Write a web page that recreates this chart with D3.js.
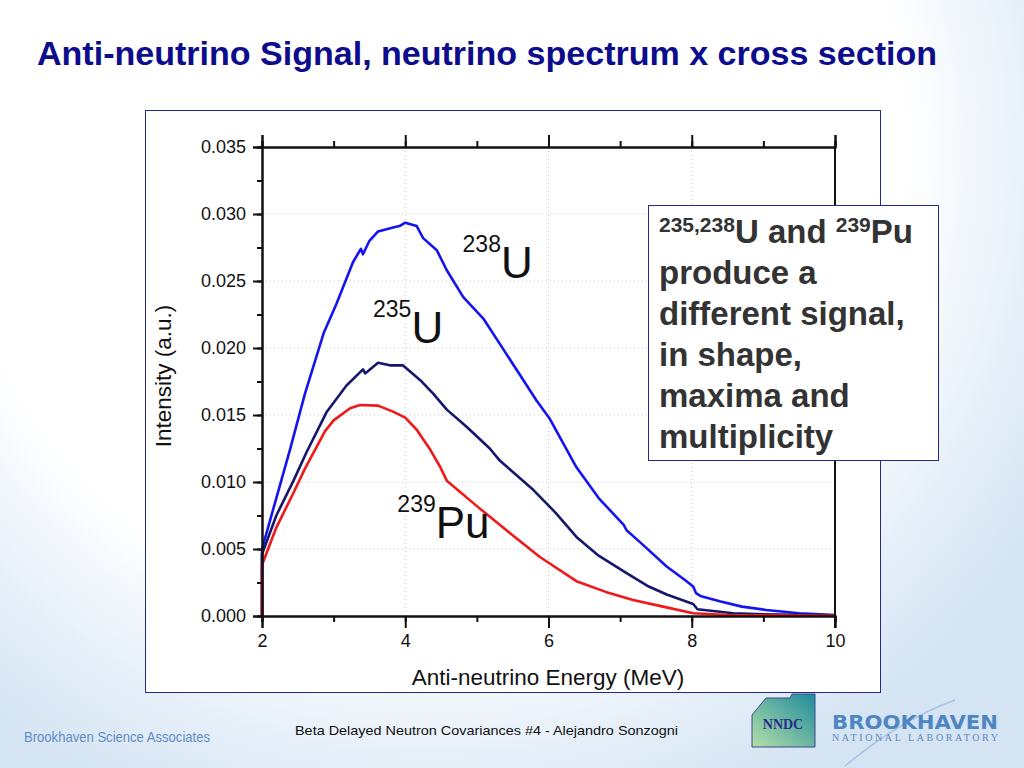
<!DOCTYPE html>
<html>
<head>
<meta charset="utf-8">
<script src="https://cdn.jsdelivr.net/npm/d3@7"></script>
<style>
  html, body { margin: 0; padding: 0; background: #fff; }
  svg { display: block; }
</style>
</head>
<body>
<svg id="chart" width="1024" height="768"></svg>
<script>
// spectra: [energy MeV, intensity a.u.]
const u238 = [[2,0],[2,0.0050],[2.1,0.0069],[2.2,0.0088],[2.39,0.0124],[2.6,0.0166],[2.86,0.0211],[3.04,0.0233],[3.27,0.0264],[3.38,0.0274],[3.41,0.0270],[3.5,0.0280],[3.62,0.0287],[3.83,0.0290],[3.92,0.0291],[4.0,0.02935],[4.16,0.0291],[4.25,0.0282],[4.44,0.0273],[4.58,0.0258],[4.81,0.0238],[5.09,0.0222],[5.37,0.0199],[5.6,0.0180],[5.83,0.0161],[6.02,0.0147],[6.39,0.0111],[6.7,0.0088],[7.05,0.0068],[7.09,0.0064],[7.3,0.0054],[7.65,0.0037],[7.9,0.0027],[8.02,0.0022],[8.06,0.0017],[8.12,0.0015],[8.39,0.0011],[8.7,0.0007],[9.04,0.00045],[9.5,0.0002],[10,0.00007]];
const u235 = [[2,0],[2,0.0046],[2.2,0.0075],[2.44,0.0101],[2.62,0.0122],[2.9,0.0152],[3.18,0.0172],[3.41,0.0184],[3.44,0.0181],[3.62,0.0189],[3.8,0.0187],[3.97,0.0187],[4.21,0.0176],[4.39,0.0166],[4.58,0.0154],[4.86,0.0141],[5.18,0.0125],[5.32,0.0116],[5.79,0.0094],[6.1,0.0077],[6.39,0.0059],[6.7,0.0045],[7.09,0.0032],[7.4,0.0022],[7.65,0.0016],[8.02,0.0009],[8.08,0.0005],[8.58,0.0002],[9.2,0.0001],[10,0.00003]];
const pu239 = [[2,0],[2,0.0038],[2.2,0.0066],[2.44,0.0092],[2.6,0.0110],[2.88,0.0138],[3.0,0.0146],[3.23,0.0155],[3.37,0.01575],[3.62,0.0157],[3.83,0.01525],[4.0,0.0148],[4.16,0.0139],[4.35,0.0124],[4.49,0.0111],[4.58,0.0101],[5.0,0.0082],[5.46,0.0062],[5.88,0.0044],[6.39,0.0026],[6.8,0.0018],[7.18,0.0012],[7.6,0.0007],[8.02,0.0002],[8.5,0.00008],[10,0.00002]];

const xTicks = [2, 4, 6, 8, 10];
const yTicks = [0, 0.005, 0.010, 0.015, 0.020, 0.025, 0.030, 0.035];
const series = [
  { name: '238', el: 'U', data: u238, color: '#1414f0' },
  { name: '235', el: 'U', data: u235, color: '#16166e' },
  { name: '239', el: 'Pu', data: pu239, color: '#f01818' }
];
const boxLines = ['produce a', 'different signal,', 'in shape,', 'maxima and', 'multiplicity'];

const svg = d3.select('#chart');
const defs = svg.append('defs');

// slide background
const bg = defs.append('radialGradient').attr('id', 'bg')
  .attr('gradientUnits', 'userSpaceOnUse').attr('cx', 430).attr('cy', 150).attr('r', 720);
bg.append('stop').attr('offset', '0%').attr('stop-color', '#ffffff');
bg.append('stop').attr('offset', '66%').attr('stop-color', '#ffffff');
bg.append('stop').attr('offset', '86%').attr('stop-color', '#e4eef8');
bg.append('stop').attr('offset', '100%').attr('stop-color', '#d4e4f3');
svg.append('rect').attr('width', 1024).attr('height', 768).attr('fill', 'url(#bg)');

// title
svg.append('text')
  .attr('x', 37).attr('y', 65)
  .attr('font-family', '"Liberation Sans Narrow", "Arial Narrow", "Liberation Sans", sans-serif')
  .attr('font-weight', 'bold').attr('font-size', 33)
  .attr('fill', '#0c0c8c')
  .attr('textLength', 900).attr('lengthAdjust', 'spacingAndGlyphs')
  .text('Anti-neutrino Signal, neutrino spectrum x cross section');

// white panel with the figure
svg.append('rect').attr('x', 145.5).attr('y', 110.5).attr('width', 735).attr('height', 582)
  .attr('fill', '#fff').attr('stroke', '#28288c').attr('stroke-width', 1);

const x = d3.scaleLinear().domain([2, 10]).range([262, 835]);
const y = d3.scaleLinear().domain([0, 0.035]).range([616, 147]);

const font = '"Liberation Sans", Arial, sans-serif';

// dotted grid
const grid = svg.append('g');
grid.selectAll('line.gy').data(yTicks.filter(d => d > 0 && d < 0.035)).join('line')
  .attr('x1', x(2)).attr('x2', x(10)).attr('y1', d => y(d)).attr('y2', d => y(d))
  .attr('stroke', '#c8c8c8').attr('stroke-width', 1).attr('stroke-dasharray', '1,3');
grid.selectAll('line.gx').data(xTicks.filter(d => d > 2 && d < 10)).join('line')
  .attr('x1', d => x(d)).attr('x2', d => x(d)).attr('y1', y(0)).attr('y2', y(0.035))
  .attr('stroke', '#c8c8c8').attr('stroke-width', 1).attr('stroke-dasharray', '1,3');

// curves
const line = d3.line().x(d => x(d[0])).y(d => y(d[1]));
svg.append('g').selectAll('path').data(series).join('path')
  .attr('d', d => line(d.data))
  .attr('fill', 'none').attr('stroke', d => d.color)
  .attr('stroke-width', 2.6).attr('stroke-linejoin', 'round');

// axes
function styleAxis(g) {
  g.select('.domain').attr('stroke', '#111').attr('stroke-width', 2);
  g.selectAll('.tick line').attr('stroke', '#111').attr('stroke-width', 2);
  g.selectAll('.tick text').attr('fill', '#111').attr('font-family', font).attr('font-size', 18);
}
const yMinor = d3.range(0, 0.0351, 0.0025);
const xMinor = d3.range(2, 10.01, 1);

svg.append('g').attr('transform', `translate(${x(2)},0)`)
  .call(d3.axisLeft(y).tickValues(yMinor).tickSize(5).tickFormat(''))
  .call(styleAxis);
svg.append('g').attr('transform', `translate(${x(2)},0)`)
  .call(d3.axisLeft(y).tickValues(yTicks).tickSize(9).tickPadding(7).tickFormat(d3.format('.3f')))
  .call(styleAxis);
svg.append('g').attr('transform', `translate(0,${y(0)})`)
  .call(d3.axisBottom(x).tickValues(xMinor).tickSize(6).tickFormat(''))
  .call(styleAxis);
svg.append('g').attr('transform', `translate(0,${y(0)})`)
  .call(d3.axisBottom(x).tickValues(xTicks).tickSize(12).tickPadding(6).tickFormat(d3.format('d')))
  .call(styleAxis);
svg.append('g').attr('transform', `translate(0,${y(0.035)})`)
  .call(d3.axisTop(x).tickValues(xMinor).tickSize(6).tickFormat(''))
  .call(styleAxis);
svg.append('g').attr('transform', `translate(0,${y(0.035)})`)
  .call(d3.axisTop(x).tickValues(xTicks).tickSize(12).tickFormat(''))
  .call(styleAxis);
svg.append('line').attr('x1', x(10)).attr('x2', x(10)).attr('y1', y(0.035)).attr('y2', y(0) + 12)
  .attr('stroke', '#111').attr('stroke-width', 2);

// axis titles
svg.append('text').attr('x', 548).attr('y', 685).attr('text-anchor', 'middle')
  .attr('font-family', font).attr('font-size', 22.5).attr('fill', '#111')
  .text('Anti-neutrino Energy (MeV)');
svg.append('text')
  .attr('text-anchor', 'middle')
  .attr('font-family', font).attr('font-size', 22.5).attr('fill', '#111')
  .attr('transform', 'translate(171,376) rotate(-90)')
  .text('Intensity (a.u.)');

// isotope labels
const labelPos = { '238': [4.8, 0.0252], '235': [3.55, 0.0204], '239': [3.89, 0.0058] };
series.forEach(s => {
  const [lx, ly] = labelPos[s.name];
  const t = svg.append('text').attr('x', x(lx)).attr('y', y(ly))
    .attr('font-family', font).attr('fill', '#111');
  t.append('tspan').attr('font-size', 23).attr('dy', -26).text(s.name);
  t.append('tspan').attr('font-size', 44).attr('dy', 26).text(s.el);
});

// annotation box
svg.append('rect').attr('x', 648.5).attr('y', 205.5).attr('width', 290).attr('height', 255)
  .attr('fill', '#fff').attr('stroke', '#28288c').attr('stroke-width', 1);
const boxText = svg.append('g').attr('font-family', font).attr('font-weight', 'bold').attr('fill', '#333');
const first = boxText.append('text').attr('x', 659).attr('y', 243).attr('font-size', 33);
first.append('tspan').attr('font-size', 21).attr('dy', -11).text('235,238');
first.append('tspan').attr('dy', 11).text('U and ');
first.append('tspan').attr('font-size', 21).attr('dy', -11).text('239');
first.append('tspan').attr('dy', 11).text('Pu');
boxText.selectAll('text.l').data(boxLines).join('text').attr('class', 'l')
  .attr('x', 659).attr('y', (d, i) => 284 + i * 41).attr('font-size', 33)
  .text(d => d);

// footer
svg.append('text').attr('x', 24).attr('y', 742)
  .attr('font-family', '"Liberation Sans Narrow", "Liberation Sans", sans-serif').attr('font-size', 15)
  .attr('fill', '#5f8cc4').attr('textLength', 186).attr('lengthAdjust', 'spacingAndGlyphs')
  .text('Brookhaven Science Associates');
svg.append('text').attr('x', 295).attr('y', 735)
  .attr('font-family', '"Liberation Sans Narrow", "Liberation Sans", sans-serif').attr('font-size', 13)
  .attr('fill', '#111').attr('textLength', 383).attr('lengthAdjust', 'spacingAndGlyphs')
  .text('Beta Delayed Neutron Covariances #4  -  Alejandro Sonzogni');

// NNDC logo
const nn = defs.append('linearGradient').attr('id', 'nn').attr('x1', 1).attr('y1', 0).attr('x2', 0).attr('y2', 1);
nn.append('stop').attr('offset', '0%').attr('stop-color', '#1f8a9c');
nn.append('stop').attr('offset', '100%').attr('stop-color', '#b4e0a8');
svg.append('path')
  .attr('d', 'M752,747 L752,715 L766,698 L790,698 L792,694 L815,694 L815,747 Z')
  .attr('fill', 'url(#nn)').attr('stroke', '#3a4a8a').attr('stroke-width', 1);
svg.append('text').attr('x', 783).attr('y', 729).attr('text-anchor', 'middle')
  .attr('font-family', '"Liberation Serif", serif').attr('font-weight', 'bold').attr('font-size', 14)
  .attr('fill', '#2a2a8a').text('NNDC');

// BNL logo
svg.append('path').attr('d', 'M845,766 Q900,720 955,700')
  .attr('fill', 'none').attr('stroke', '#a8c4e0').attr('stroke-width', 1.5);
svg.append('text').attr('x', 832).attr('y', 729)
  .attr('font-family', '"DejaVu Sans", sans-serif').attr('font-weight', 'bold').attr('font-size', 20)
  .attr('fill', '#4f86c2').attr('textLength', 166).attr('lengthAdjust', 'spacingAndGlyphs')
  .text('BROOKHAVEN');
svg.append('text').attr('x', 832).attr('y', 741)
  .attr('font-family', '"Liberation Serif", serif').attr('font-size', 10)
  .attr('fill', '#5a88bc').attr('textLength', 166).attr('lengthAdjust', 'spacing')
  .text('NATIONAL LABORATORY');
</script>
</body>
</html>
